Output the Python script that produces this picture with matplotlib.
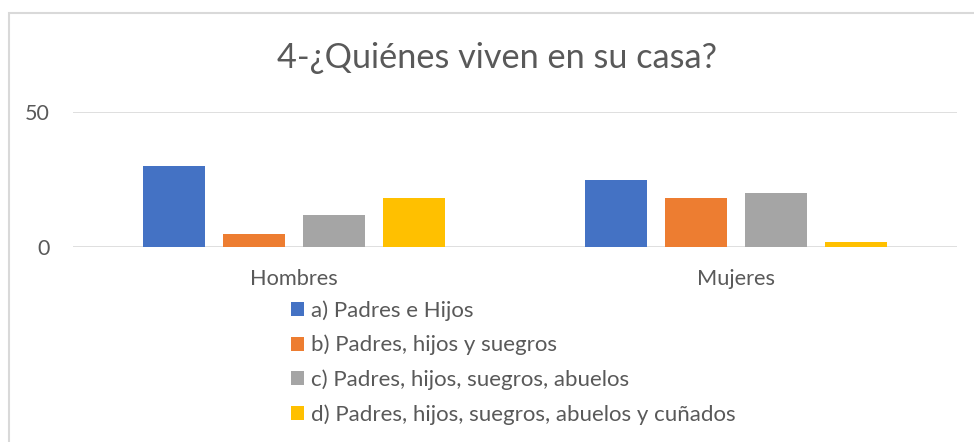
import matplotlib.pyplot as plt
from matplotlib.patches import Rectangle
import numpy as np

# data
categories = ['Hombres', 'Mujeres']
series_names = ['a) Padres e Hijos',
                'b) Padres, hijos y suegros',
                'c) Padres, hijos, suegros, abuelos',
                'd) Padres, hijos, suegros, abuelos y cuñados']
padres_hijos = [30, 25]
con_suegros = [5, 18]
con_abuelos = [12, 20]
con_cunados = [18, 2]

colors = ['#4472C4', '#ED7D31', '#A5A5A5', '#FFC000']
txt = '#595959'

plt.rcParams['font.family'] = ['Lato', 'DejaVu Sans']

def main():
    fig = plt.figure(figsize=(9.74, 4.42), dpi=100)
    W, H = 974, 442
    ax = fig.add_axes([73 / W, (H - 247.3) / H, (957 - 73) / W, 135.6 / H])

    x = np.arange(len(categories))
    width = 0.1425
    step = 0.181
    bars = []
    for i, vals in enumerate([padres_hijos, con_suegros, con_abuelos, con_cunados]):
        b = ax.bar(x + (i - 1.5) * step, vals, width, color=colors[i],
                   label=series_names[i], zorder=3)
        bars.append(b)

    ax.set_xlim(-0.5, 1.5)
    ax.set_ylim(0, 50)
    ax.set_yticks([0, 50])
    ax.set_xticks(x)
    ax.set_xticklabels(categories)
    ax.grid(axis='y', color='#D9D9D9', linewidth=1.2, zorder=0)
    for s in ax.spines.values():
        s.set_visible(False)
    ax.tick_params(axis='y', length=0, pad=16.5, labelsize=15.5, labelcolor=txt)
    ax.tick_params(axis='x', length=0, pad=15.5, labelsize=15.7, labelcolor=txt)

    fig.text(497 / W, 1 - 58 / H, u'4-¿Quiénes viven en su casa?', ha='center', va='center',
             fontsize=24.7, color=txt)

    fig.legend(handles=bars, loc='upper left', bbox_to_anchor=(291 / W, 1 - 300 / H),
               frameon=False, fontsize=16, labelcolor=txt, handlelength=0.6,
               handleheight=0.6, handletextpad=0.3, labelspacing=0.64,
               borderpad=0, borderaxespad=0)

    # chart border
    fig.patches.append(Rectangle((8.5 / W, -0.1), 1.2, 1 - 12.5 / H + 0.1,
                                 transform=fig.transFigure, fill=False,
                                 edgecolor='#D9D9D9', linewidth=1.5))

    fig.savefig('out.png', dpi=100)

if __name__ == '__main__':
    main()
